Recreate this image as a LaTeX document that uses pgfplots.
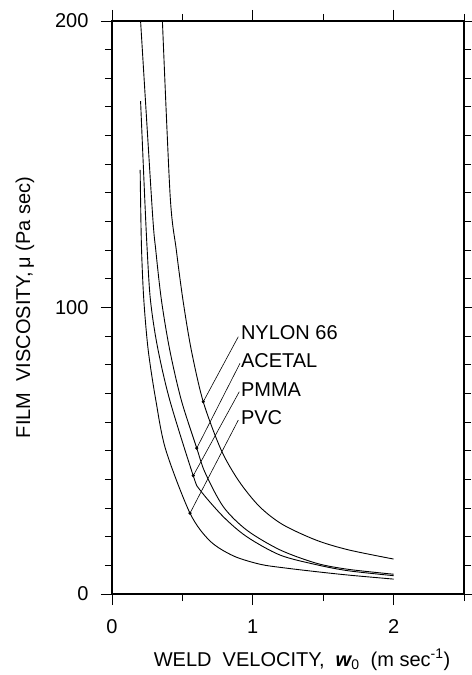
\documentclass[border=0pt]{standalone}
\usepackage{fontspec}
\setmainfont{Liberation Sans}
\usepackage{pgfplots}
\usetikzlibrary{calc}
\pgfplotsset{compat=1.18}
\begin{document}
\begin{tikzpicture}
\begin{axis}[
  width=352pt, height=573pt, scale only axis,
  xmin=0, xmax=2.5, ymin=0, ymax=200,
  xtick={0,1,2}, minor xtick={0.5,1.5,2.5},
  ytick={0,100,200}, minor ytick={10,20,...,190},
  tick align=outside,
  major tick length=11pt, minor tick length=7pt,
  tick style={black, line width=0.9pt},
  axis line style={line width=1.3pt},
  /pgf/number format/assume math mode=true,
  ticklabel style={font=\fontsize{20}{20}\selectfont},
  xticklabel style={yshift=-11pt},
  yticklabel style={xshift=-9pt},
  label style={font=\fontsize{20}{20}\selectfont},
  xlabel={WELD\ \ VELOCITY,\ \ {\bfseries\itshape w}\textsubscript{0}\ \ (m sec\textsuperscript{-1})},
  ylabel={FILM\ \ VISCOSITY,\,μ\ (Pa sec)},
  xlabel style={at={(axis description cs:0.54,-0.115)}, anchor=center},
  ylabel style={at={(axis description cs:-0.247,0.5)}, anchor=center},
]
\coordinate (sw) at (rel axis cs:0,0);
\coordinate (ne) at (rel axis cs:1,1);
% NYLON 66
\addplot[black, line width=0.9pt, smooth, tension=0.5] coordinates {
(0.358,200) (0.413,139) (0.457,120) (0.504,102.6) (0.563,85.2) (0.648,67.1)
(0.775,50.3) (0.9,39.5) (1.046,30.6) (1.21,24.3) (1.45,18.8) (1.68,15.4) (2.0,12.2)};
% ACETAL
\addplot[black, line width=0.9pt, smooth, tension=0.5] coordinates {
(0.203,200) (0.286,134) (0.311,120) (0.351,102.6) (0.41,85.2) (0.492,67.7)
(0.602,50.9) (0.66,42.5) (0.79,30.5) (0.957,22.3) (1.193,15.4) (1.454,10.7) (1.68,8.6) (2.0,6.9)};
% PMMA
\addplot[black, line width=0.9pt, smooth, tension=0.5] coordinates {
(0.203,172) (0.233,137.5) (0.25,120) (0.273,102.6) (0.322,86.5) (0.41,67.7)
(0.577,41.3) (0.625,36.3) (0.79,27) (0.957,20) (1.193,13.6) (1.454,10.2) (1.68,8.1) (2.0,6.4)};
% PVC
\addplot[black, line width=0.9pt, smooth, tension=0.5] coordinates {
(0.2,148) (0.203,137.5) (0.21,120) (0.226,102.6) (0.257,85.2) (0.311,67.7)
(0.382,50.3) (0.554,28.2) (0.696,18.5) (0.862,13.3) (1.05,10.4) (1.21,9.2) (1.45,7.8) (1.68,6.6) (2.0,5.2)};
% leaders
\addplot[black, line width=0.6pt, mark=*, mark size=1.3pt, mark indices={1}] coordinates {(0.648,67.1) (0.897,89.8)};
\addplot[black, line width=0.6pt, mark=*, mark size=1.3pt, mark indices={1}] coordinates {(0.602,50.9) (0.909,80.5)};
\addplot[black, line width=0.6pt, mark=*, mark size=1.3pt, mark indices={1}] coordinates {(0.577,41.3) (0.904,70.6)};
\addplot[black, line width=0.6pt, mark=*, mark size=1.3pt, mark indices={1}] coordinates {(0.554,28.2) (0.897,60.7)};
\node[anchor=west, inner sep=0pt, font=\fontsize{20}{20}\selectfont] at (axis cs:0.915,91.4) {NYLON 66};
\node[anchor=west, inner sep=0pt, font=\fontsize{20}{20}\selectfont] at (axis cs:0.915,81.3) {ACETAL};
\node[anchor=west, inner sep=0pt, font=\fontsize{20}{20}\selectfont] at (axis cs:0.915,71.2) {PMMA};
\node[anchor=west, inner sep=0pt, font=\fontsize{20}{20}\selectfont] at (axis cs:0.915,61.4) {PVC};
\end{axis}
\pgfresetboundingbox
\useasboundingbox ($(sw)+(-112pt,-81pt)$) rectangle ($(ne)+(8pt,21pt)$);
\end{tikzpicture}
\end{document}
